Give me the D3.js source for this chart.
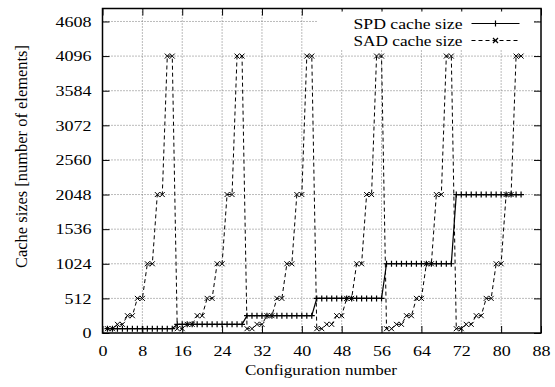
<!DOCTYPE html>
<html>
<head>
<meta charset="utf-8">
<script src="https://cdn.jsdelivr.net/npm/d3@7"></script>
<style>
body { margin: 0; background: #fff; }
</style>
</head>
<body>
<div id="chart-area"></div>
<script>
// values
var spdSize = [
    64, 64, 64, 64, 64, 64, 64, 64, 64, 64, 64, 64, 64, 64,
    128, 128, 128, 128, 128, 128, 128, 128, 128, 128, 128, 128, 128, 128,
    256, 256, 256, 256, 256, 256, 256, 256, 256, 256, 256, 256, 256, 256,
    512, 512, 512, 512, 512, 512, 512, 512, 512, 512, 512, 512, 512, 512,
    1024, 1024, 1024, 1024, 1024, 1024, 1024, 1024, 1024, 1024, 1024, 1024, 1024, 1024,
    2048, 2048, 2048, 2048, 2048, 2048, 2048, 2048, 2048, 2048, 2048, 2048, 2048, 2048
];
var sadSize = [
    64, 64, 128, 128, 256, 256, 512, 512, 1024, 1024, 2048, 2048, 4096, 4096,
    64, 64, 128, 128, 256, 256, 512, 512, 1024, 1024, 2048, 2048, 4096, 4096,
    64, 64, 128, 128, 256, 256, 512, 512, 1024, 1024, 2048, 2048, 4096, 4096,
    64, 64, 128, 128, 256, 256, 512, 512, 1024, 1024, 2048, 2048, 4096, 4096,
    64, 64, 128, 128, 256, 256, 512, 512, 1024, 1024, 2048, 2048, 4096, 4096,
    64, 64, 128, 128, 256, 256, 512, 512, 1024, 1024, 2048, 2048, 4096, 4096
];
var xTicks = [0, 8, 16, 24, 32, 40, 48, 56, 64, 72, 80, 88];
var yTicks = [0, 512, 1024, 1536, 2048, 2560, 3072, 3584, 4096, 4608];
var seriesNames = ["SPD cache size", "SAD cache size"];

var serif = "'Liberation Serif', 'DejaVu Serif', serif";

var margin = {top: 8.5, right: 14, bottom: 54, left: 102.5};
var width = 555 - margin.left - margin.right;
var height = 387 - margin.top - margin.bottom;

var svg = d3.select("#chart-area")
    .append("svg")
        .attr("width", 555)
        .attr("height", 387)
        .style("font-family", serif);

var g = svg.append("g")
    .attr("transform", "translate(" + margin.left + ", " + margin.top + ")");

var x = d3.scaleLinear()
    .domain([0, 88])
    .range([0, width]);

var y = d3.scaleLinear()
    .domain([0, 4800])
    .range([height, 0]);

// grid
g.append("g")
    .attr("class", "grid")
    .selectAll("line")
    .data(xTicks.slice(1, -1))
    .enter().append("line")
        .attr("x1", (d) => x(d)).attr("x2", (d) => x(d))
        .attr("y1", 0).attr("y2", height)
        .attr("stroke", "#777").attr("stroke-width", 1)
        .attr("stroke-dasharray", "1,2");

g.append("g")
    .attr("class", "grid")
    .selectAll("line")
    .data(yTicks.slice(1))
    .enter().append("line")
        .attr("x1", 0).attr("x2", width)
        .attr("y1", (d) => y(d)).attr("y2", (d) => y(d))
        .attr("stroke", "#777").attr("stroke-width", 1)
        .attr("stroke-dasharray", "1,2");

// axes with inward ticks, mirrored
var fmt = d3.format("d");
var bottomAxis = d3.axisBottom(x).tickValues(xTicks).tickFormat(fmt).tickSizeInner(-7).tickSizeOuter(0).tickPadding(12);
var leftAxis = d3.axisLeft(y).tickValues(yTicks).tickFormat(fmt).tickSizeInner(-7).tickSizeOuter(0).tickPadding(11);
var topAxis = d3.axisTop(x).tickValues(xTicks).tickSizeInner(-7).tickSizeOuter(0).tickFormat("");
var rightAxis = d3.axisRight(y).tickValues(yTicks).tickSizeInner(-7).tickSizeOuter(0).tickFormat("");

g.append("g").attr("class", "bottom axis").attr("transform", "translate(0, " + height + ")").call(bottomAxis);
g.append("g").attr("class", "left axis").call(leftAxis);
g.append("g").attr("class", "top axis").call(topAxis);
g.append("g").attr("class", "right axis").attr("transform", "translate(" + width + ", 0)").call(rightAxis);

g.selectAll(".axis path").remove();
g.selectAll(".axis line").attr("stroke", "#000");
g.selectAll(".axis").attr("font-family", null).attr("font-size", null);
g.selectAll(".axis text")
    .style("font-family", serif)
    .style("font-size", "15px")
    .attr("fill", "#000")
    .each(function() {
        // the reference type is a little wider than Times
        var len = this.getComputedTextLength();
        if (len > 0) d3.select(this).attr("textLength", len * 1.2).attr("lengthAdjust", "spacingAndGlyphs");
    });

// legend background hides the grid behind it
g.append("rect")
    .attr("x", 215).attr("y", 3)
    .attr("width", 216).attr("height", 38)
    .attr("fill", "#fff");

var line = d3.line()
    .x((d, i) => x(i + 1))
    .y((d) => y(d));

// SPD: solid line with plus marks
g.append("path")
    .datum(spdSize)
    .attr("fill", "none")
    .attr("stroke", "#000")
    .attr("stroke-width", 1.2)
    .attr("d", line);

g.append("g").selectAll("path")
    .data(spdSize)
    .enter().append("path")
        .attr("transform", (d, i) => "translate(" + x(i + 1) + "," + y(d) + ")")
        .attr("d", "M-3,0H3M0,-3V3")
        .attr("stroke", "#000")
        .attr("stroke-width", 1.2);

// SAD: dashed line with cross marks
g.append("path")
    .datum(sadSize)
    .attr("fill", "none")
    .attr("stroke", "#000")
    .attr("stroke-width", 1)
    .attr("stroke-dasharray", "4,3")
    .attr("d", line);

g.append("g").selectAll("path")
    .data(sadSize)
    .enter().append("path")
        .attr("transform", (d, i) => "translate(" + x(i + 1) + "," + y(d) + ")")
        .attr("d", "M-2.5,-2.5L2.5,2.5M-2.5,2.5L2.5,-2.5")
        .attr("stroke", "#000")
        .attr("stroke-width", 1);

// frame
g.append("rect")
    .attr("width", width).attr("height", height)
    .attr("fill", "none")
    .attr("stroke", "#000")
    .attr("stroke-width", 1.5);

// legend
var legend = g.append("g").attr("class", "legend");
seriesNames.forEach((name, i) => {
    var ly = 15 + i * 17;
    legend.append("text")
        .attr("x", 360).attr("y", ly + 5)
        .attr("text-anchor", "end")
        .style("font-family", serif)
        .style("font-size", "15px")
        .attr("textLength", 109)
        .attr("lengthAdjust", "spacingAndGlyphs")
        .text(name);
    legend.append("line")
        .attr("x1", 369).attr("x2", 417)
        .attr("y1", ly).attr("y2", ly)
        .attr("stroke", "#000")
        .attr("stroke-width", i == 0 ? 1.2 : 1)
        .attr("stroke-dasharray", i == 0 ? null : "4,3");
    legend.append("path")
        .attr("transform", "translate(393," + ly + ")")
        .attr("d", i == 0 ? "M-3,0H3M0,-3V3" : "M-2.5,-2.5L2.5,2.5M-2.5,2.5L2.5,-2.5")
        .attr("stroke", "#000")
        .attr("stroke-width", 1.2);
});

// axis labels
svg.append("text")
    .attr("x", 321)
    .attr("y", 375)
    .style("font-family", serif)
    .style("font-size", "15px")
    .attr("text-anchor", "middle")
    .attr("textLength", 152)
    .attr("lengthAdjust", "spacingAndGlyphs")
    .text("Configuration number");

svg.append("text")
    .attr("transform", "translate(27, 156.5) rotate(-90)")
    .style("font-family", serif)
    .style("font-size", "16px")
    .attr("text-anchor", "middle")
    .attr("textLength", 223)
    .attr("lengthAdjust", "spacingAndGlyphs")
    .text("Cache sizes [number of elements]");
</script>
</body>
</html>
